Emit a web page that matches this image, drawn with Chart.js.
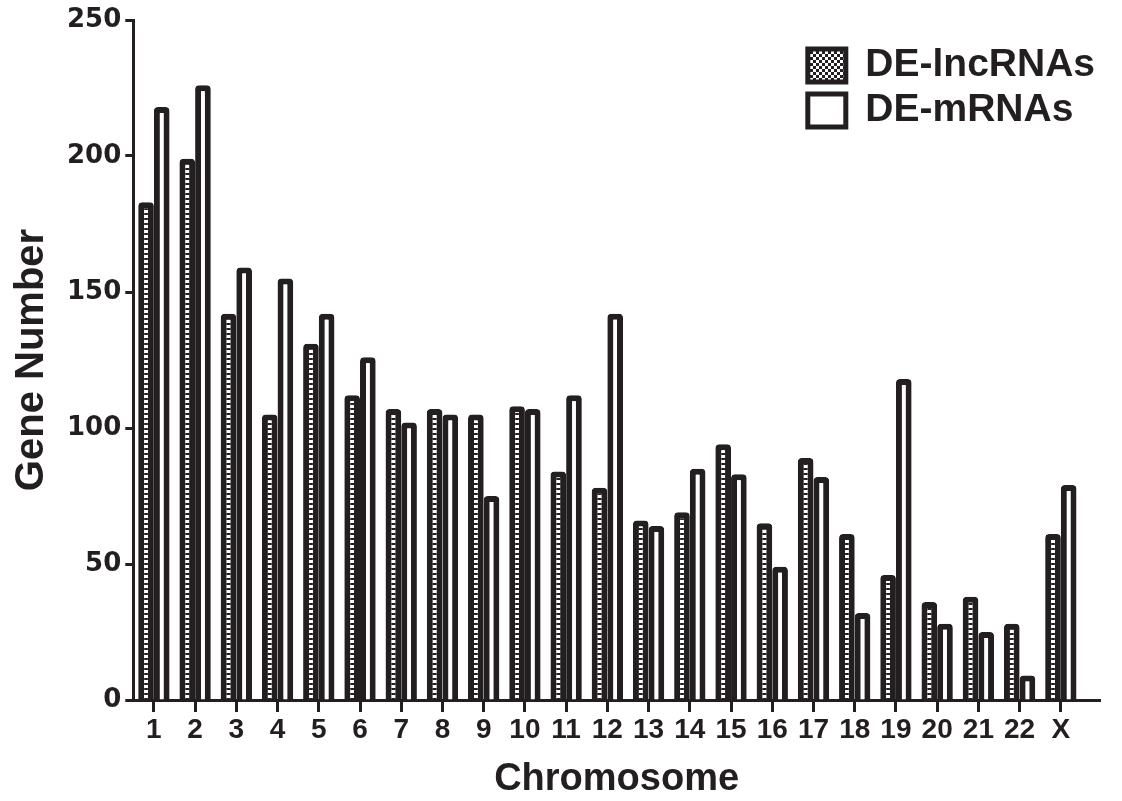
<!DOCTYPE html>
<html>
<head>
<meta charset="utf-8">
<title>Gene Number by Chromosome</title>
<script src="https://cdn.jsdelivr.net/npm/chart.js@4.4.1/dist/chart.umd.min.js"></script>
<style>
  html, body { margin: 0; padding: 0; background: #fff; }
  #wrap { position: relative; width: 1122px; height: 801px; }
</style>
</head>
<body>
<div id="wrap"><canvas id="chromChart"></canvas></div>
<script>
// counts of differentially expressed genes per chromosome
const chromosomes = ["1", "2", "3", "4", "5", "6", "7", "8", "9", "10", "11", "12",
                     "13", "14", "15", "16", "17", "18", "19", "20", "21", "22", "X"];
const lncCounts  = [183, 199, 142, 105, 131, 112, 107, 107, 105, 108, 84, 78,
                    66, 69, 94, 65, 89, 61, 46, 36, 38, 28, 61];
const mrnaCounts = [218, 226, 159, 155, 142, 126, 102, 105, 75, 107, 112, 142,
                    64, 85, 83, 49, 82, 32, 118, 28, 25, 9, 79];
const seriesNames = ["DE-lncRNAs", "DE-mRNAs"];
const yTicks = [0, 50, 100, 150, 200, 250];

const ink = "#231f20";

// small tile fills: dotted column for the bars, checkerboard for the legend swatch
function makeTile(w, h, draw) {
    const c = document.createElement("canvas");
    c.width = w;
    c.height = h;
    const g = c.getContext("2d");
    draw(g);
    return g.createPattern(c, "repeat");
}

const dotFill = makeTile(1, 5, g => {
    g.fillStyle = ink;
    g.fillRect(0, 0, 1, 5);
    g.fillStyle = "#ffffff";
    g.fillRect(0, 0, 1, 3);
});

const checkerFill = makeTile(6, 6, g => {
    g.fillStyle = ink;
    g.fillRect(0, 0, 6, 6);
    g.fillStyle = "#ffffff";
    g.fillRect(0, 0, 3, 3);
    g.fillRect(3, 3, 3, 3);
});

// park the legend in the upper right corner of the plot area
const legendCorner = {
    id: "legendCorner",
    afterLayout(chart) {
        const legend = chart.legend;
        const area = chart.chartArea;
        legend.left = area.right + 5 - legend.width;
        legend.right = legend.left + legend.width;
        legend.top = area.top + 20;
        legend.bottom = legend.top + legend.height;
    }
};

const barStyle = {
    borderColor: ink,
    borderWidth: { top: 6, left: 6, right: 6, bottom: 0 },
    borderSkipped: "bottom",
    borderRadius: { topLeft: 4, topRight: 4 },
    inflateAmount: 0,
    categoryPercentage: 0.76,
    barPercentage: 1
};

Chart.defaults.font.family = "'Liberation Sans', Arial, sans-serif";
Chart.defaults.font.weight = "bold";
Chart.defaults.color = ink;

const ctx = document.getElementById("chromChart").getContext("2d");
new Chart(ctx, {
    type: "bar",
    data: {
        datasets: [
            Object.assign({
                label: seriesNames[0],
                data: chromosomes.map((c, i) => ({ x: i + 1, y: lncCounts[i] })),
                backgroundColor: dotFill
            }, barStyle),
            Object.assign({
                label: seriesNames[1],
                data: chromosomes.map((c, i) => ({ x: i + 1, y: mrnaCounts[i] })),
                backgroundColor: "#ffffff"
            }, barStyle)
        ]
    },
    options: {
        responsive: true,
        maintainAspectRatio: false,
        animation: false,
        events: [],
        layout: { padding: { top: 20, right: 22, bottom: 0, left: 2 } },
        scales: {
            x: {
                type: "linear",
                min: 0.5,
                max: 23.95,
                offset: false,
                afterBuildTicks: axis => {
                    axis.ticks = chromosomes.map((c, i) => ({ value: i + 1 }));
                },
                ticks: {
                    autoSkip: false,
                    maxRotation: 0,
                    padding: 4,
                    font: { size: 28, lineHeight: 1 },
                    callback: v => chromosomes[v - 1]
                },
                grid: {
                    offset: false,
                    drawOnChartArea: false,
                    tickLength: 12,
                    tickWidth: 3,
                    tickColor: ink
                },
                border: { display: true, width: 3, color: ink },
                title: {
                    display: true,
                    text: "Chromosome",
                    font: { size: 38, lineHeight: 1 },
                    padding: { top: 13, bottom: 2 }
                }
            },
            y: {
                min: 0,
                max: 250,
                afterBuildTicks: axis => {
                    axis.ticks = yTicks.map(v => ({ value: v }));
                },
                ticks: {
                    padding: 4,
                    font: { family: "'DejaVu Sans', sans-serif", size: 26 }
                },
                grid: {
                    drawOnChartArea: false,
                    tickLength: 8,
                    tickWidth: 3,
                    tickColor: ink
                },
                border: { display: true, width: 3, color: ink },
                title: {
                    display: true,
                    text: "Gene Number",
                    font: { size: 40, lineHeight: 1.2 },
                    padding: { top: 6, bottom: 7 }
                }
            }
        },
        plugins: {
            tooltip: { enabled: false },
            legend: {
                position: "chartArea",
                align: "start",
                labels: {
                    boxWidth: 38,
                    boxHeight: 33,
                    padding: 6,
                    font: { size: 39 },
                    generateLabels: chart => {
                        const items = Chart.defaults.plugins.legend.labels.generateLabels(chart);
                        items.forEach((item, i) => {
                            item.fillStyle = i === 0 ? checkerFill : "#ffffff";
                            item.strokeStyle = ink;
                            item.lineWidth = 5;
                        });
                        return items;
                    }
                }
            }
        }
    },
    plugins: [legendCorner]
});
</script>
</body>
</html>
